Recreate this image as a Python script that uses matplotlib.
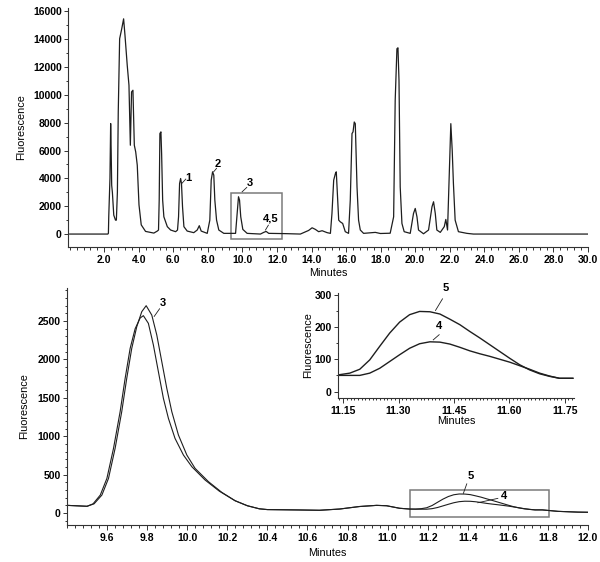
import matplotlib
matplotlib.use("Agg")
import matplotlib.pyplot as plt
from matplotlib.patches import Rectangle
from matplotlib.ticker import MultipleLocator, FormatStrFormatter

# ---- full run, 0-30 min ----
run_t = [0.0, 2.21, 2.24, 2.26, 2.33, 2.37, 2.40, 2.43, 2.47, 2.55, 2.65, 2.70, 2.76,
         2.81, 2.89, 3.01, 3.12, 3.20, 3.33, 3.43, 3.51, 3.58, 3.66, 3.74, 3.82, 3.91,
         4.01, 4.14, 4.39, 4.87, 5.07, 5.14, 5.18, 5.22, 5.28, 5.32, 5.38,
         5.45, 5.65, 5.84, 6.13, 6.24, 6.30, 6.36, 6.42, 6.47, 6.53, 6.61, 6.80, 7.18,
         7.38, 7.50, 7.61, 7.96, 8.11, 8.19, 8.27, 8.34, 8.40, 8.50, 8.63, 8.92, 9.60,
         9.69, 9.77, 9.83, 9.90, 10.02, 10.27, 11.04, 11.23, 11.37, 11.52, 12.50, 13.35,
         13.83, 14.03, 14.22, 14.41, 14.61, 14.90, 15.09, 15.18, 15.28, 15.38, 15.43,
         15.51, 15.57, 15.66, 15.80, 15.95, 16.14, 16.24, 16.34, 16.40, 16.47, 16.53,
         16.63, 16.72, 16.82, 17.01, 17.69, 17.98, 18.55, 18.75, 18.84, 18.94, 19.00,
         19.06, 19.13, 19.23, 19.36, 19.71, 19.90, 20.00, 20.10, 20.19, 20.48, 20.77,
         20.97, 21.06, 21.16, 21.25, 21.45, 21.68, 21.77, 21.87, 21.98, 22.06, 22.14,
         22.21, 22.31, 22.50, 22.99, 23.37, 30.0]
run_f = [0, 0, 60, 1260, 4000, 7940, 6000, 3500, 3000, 1360, 1000, 1000, 3000,
         8770, 14030, 14740, 15460, 14270, 12120, 10690, 6380, 10210, 10330, 6380, 5900, 4950,
         2100, 660, 190, 70, 215, 290, 2440, 7220, 7340, 5780, 2440,
         1240, 530, 290, 170, 290, 1240, 3630, 3990, 3630, 1960, 530, 215, 100,
         290, 600, 215, 50, 1000, 3870, 4470, 4230, 2440, 1000, 290, 50, 50,
         1480, 2680, 2440, 1240, 335, 50, 0, 120, 190, 50, 30, 0,
         260, 450, 335, 170, 240, 100, 50, 1480, 3870, 4350, 4470,
         2440, 1000, 880, 760, 170, 50, 2440, 7220, 7340, 8050, 7930,
         3390, 1000, 290, 50, 120, 40, 60, 1240, 9610, 13310, 13380,
         11040, 3390, 760, 170, 50, 1480, 1840, 1240, 290, 20, 290,
         1960, 2320, 1480, 290, 120, 530, 1050, 290, 4830, 7930, 6020,
         3630, 1000, 170, 50, 0, 0]

# ---- expanded region 9.4-12.0 min, two overlaid runs ----
# peak 3, run A (taller) and run B
p3a_t = [9.40, 9.50, 9.535, 9.574, 9.607, 9.64, 9.673, 9.698, 9.723, 9.748, 9.773,
         9.795, 9.823, 9.848, 9.873, 9.898, 9.923, 9.956, 9.998, 10.039, 10.106,
         10.172, 10.239, 10.30, 10.36, 10.40]
p3a_f = [100, 88, 120, 234, 451, 842, 1319, 1753, 2144, 2426, 2622,
         2700, 2578, 2318, 1970, 1623, 1319, 1016, 755, 582, 408,
         270, 160, 95, 55, 45]
p3b_t = [9.40, 9.50, 9.530, 9.566, 9.599, 9.632, 9.665, 9.690, 9.715, 9.740, 9.765,
         9.781, 9.806, 9.831, 9.856, 9.881, 9.906, 9.939, 9.981, 10.023, 10.089,
         10.160, 10.239, 10.30, 10.36, 10.40]
p3b_f = [100, 88, 120, 234, 451, 842, 1319, 1753, 2144, 2400, 2540,
         2570, 2470, 2188, 1840, 1493, 1233, 972, 755, 603, 430,
         285, 160, 95, 55, 45]

# baseline between peak 3 and peaks 4/5 (same in both runs)
base_t = [10.56, 10.66, 10.76, 10.86, 10.945, 10.995, 11.06, 11.11]
base_f = [40, 36, 52, 85, 100, 95, 62, 52]

# peaks 4 and 5, 11.14-11.77 min
z_t = [11.139, 11.168, 11.195, 11.222, 11.249, 11.276, 11.303, 11.33, 11.357, 11.385,
       11.412, 11.439, 11.466, 11.493, 11.52, 11.547, 11.574, 11.601, 11.628, 11.655,
       11.682, 11.709, 11.736, 11.772]
z_5 = [52, 57, 69, 98, 140, 181, 215, 238, 248, 247, 240, 224, 207, 186, 166, 145,
       124, 103, 83, 67, 55, 47, 41, 41]
z_4 = [50, 50, 50, 57, 72, 93, 114, 134, 148, 154, 153, 147, 137, 126, 117, 109,
       100, 91, 80, 69, 57, 48, 41, 41]

tail_t = [11.85, 11.95, 12.0]
tail_f = [22, 12, 10]

INK = "#1e1e1e"
BOX = "#7a7a7a"
FONT = "Liberation Sans"

plt.rcParams.update({
    "font.family": FONT, "font.size": 7.5, "font.weight": "bold",
    "axes.linewidth": 0.8, "axes.edgecolor": "#333333",
    "xtick.major.size": 3.5, "xtick.minor.size": 2, "ytick.major.size": 3,
    "ytick.minor.size": 1.8, "xtick.major.pad": 2.5, "ytick.major.pad": 1.5,
    "xtick.direction": "out", "ytick.direction": "out",
})


def style(ax):
    for s in ("top", "right"):
        ax.spines[s].set_visible(False)
    ax.tick_params(which="both", width=0.7, colors="#333333", labelcolor="black")


fig = plt.figure(figsize=(6.0, 5.62), dpi=100)

# ---- top: whole chromatogram ----
ax = fig.add_axes([0.1133, 0.5605, 0.8667, 0.4253])
ax.plot(run_t, run_f, color=INK, lw=0.9)
ax.set_xlim(-0.1, 30.0)
ax.set_ylim(-930, 16240)
ax.set_xticks([t for t in range(2, 31, 2)])
ax.xaxis.set_minor_locator(MultipleLocator(0.4))
ax.xaxis.set_major_formatter(FormatStrFormatter("%.1f"))
ax.yaxis.set_major_locator(MultipleLocator(2000))
ax.yaxis.set_minor_locator(MultipleLocator(1000))
ax.set_xlabel("Minutes", fontsize=7.8, labelpad=2)
ax.set_ylabel("Fluorescence", fontsize=7.8, labelpad=5)
style(ax)
ax.add_patch(Rectangle((9.36, -360), 2.93, 3280, fill=False, ec=BOX, lw=1.1))
for txt, (x0, y0), (x1, y1), (tx, ty) in [
        ("1", (6.50, 3650), (6.72, 3950), (6.88, 4020)),
        ("2", (8.33, 4470), (8.50, 4720), (8.57, 5000)),
        ("3", (9.98, 3035), (10.25, 3350), (10.42, 3640)),
        ("4,5", (11.33, 290), (11.50, 640), (11.62, 1130))]:
    ax.plot([x0, x1], [y0, y1], color=INK, lw=0.6)
    ax.text(tx, ty, txt, ha="center", va="center", fontsize=8)

# ---- bottom: expanded 9.4-12.0 min ----
bx = fig.add_axes([0.1117, 0.0658, 0.8683, 0.4217])
bx.plot(p3a_t + base_t + z_t + tail_t, p3a_f + base_f + z_5 + tail_f, color=INK, lw=0.8)
bx.plot(p3b_t + base_t + z_t + tail_t, p3b_f + base_f + z_4 + tail_f, color=INK, lw=0.8)
bx.set_xlim(9.4, 12.0)
bx.set_ylim(-156, 2930)
bx.set_xticks([9.6, 9.8, 10.0, 10.2, 10.4, 10.6, 10.8, 11.0, 11.2, 11.4, 11.6, 11.8, 12.0])
bx.xaxis.set_minor_locator(MultipleLocator(0.04))
bx.xaxis.set_major_formatter(FormatStrFormatter("%.1f"))
bx.yaxis.set_major_locator(MultipleLocator(500))
bx.yaxis.set_minor_locator(MultipleLocator(100))
bx.set_xlabel("Minutes", fontsize=7.8, labelpad=3)
bx.set_ylabel("Fluorescence", fontsize=7.8, labelpad=6)
style(bx)
bx.add_patch(Rectangle((11.112, -56), 0.695, 356, fill=False, ec=BOX, lw=1.1))
for txt, (x0, y0), (x1, y1), (tx, ty) in [
        ("3", (9.835, 2560), (9.862, 2660), (9.88, 2730)),
        ("5", (11.378, 256), (11.395, 380), (11.415, 482)),
        ("4", (11.45, 134), (11.55, 191), (11.58, 221))]:
    bx.plot([x0, x1], [y0, y1], color=INK, lw=0.6)
    bx.text(tx, ty, txt, ha="center", va="center", fontsize=8)

# ---- inset: peaks 4 and 5 ----
ix = fig.add_axes([0.5633, 0.2918, 0.3933, 0.1868])
ix.plot(z_t, z_5, color=INK, lw=1.0)
ix.plot(z_t, z_4, color=INK, lw=1.0)
ix.set_xlim(11.136, 11.775)
ix.set_ylim(-20, 305)
ix.set_xticks([11.15, 11.30, 11.45, 11.60, 11.75])
ix.xaxis.set_minor_locator(MultipleLocator(0.01))
ix.xaxis.set_major_formatter(FormatStrFormatter("%.2f"))
ix.yaxis.set_major_locator(MultipleLocator(100))
ix.yaxis.set_minor_locator(MultipleLocator(50))
ix.set_xlabel("Minutes", fontsize=7.8, labelpad=0)
ix.set_ylabel("Fluorescence", fontsize=7.8, labelpad=1)
ix.tick_params(axis="x", which="minor", length=1.2)
style(ix)
for txt, (x0, y0), (x1, y1), (tx, ty) in [
        ("5", (11.40, 251), (11.419, 287), (11.427, 305)),
        ("4", (11.394, 160), (11.41, 176), (11.41, 188))]:
    ix.plot([x0, x1], [y0, y1], color=INK, lw=0.6, clip_on=False)
    ix.text(tx, ty, txt, ha="center", va="bottom", fontsize=8, clip_on=False)

fig.savefig("out.png", dpi=100)
